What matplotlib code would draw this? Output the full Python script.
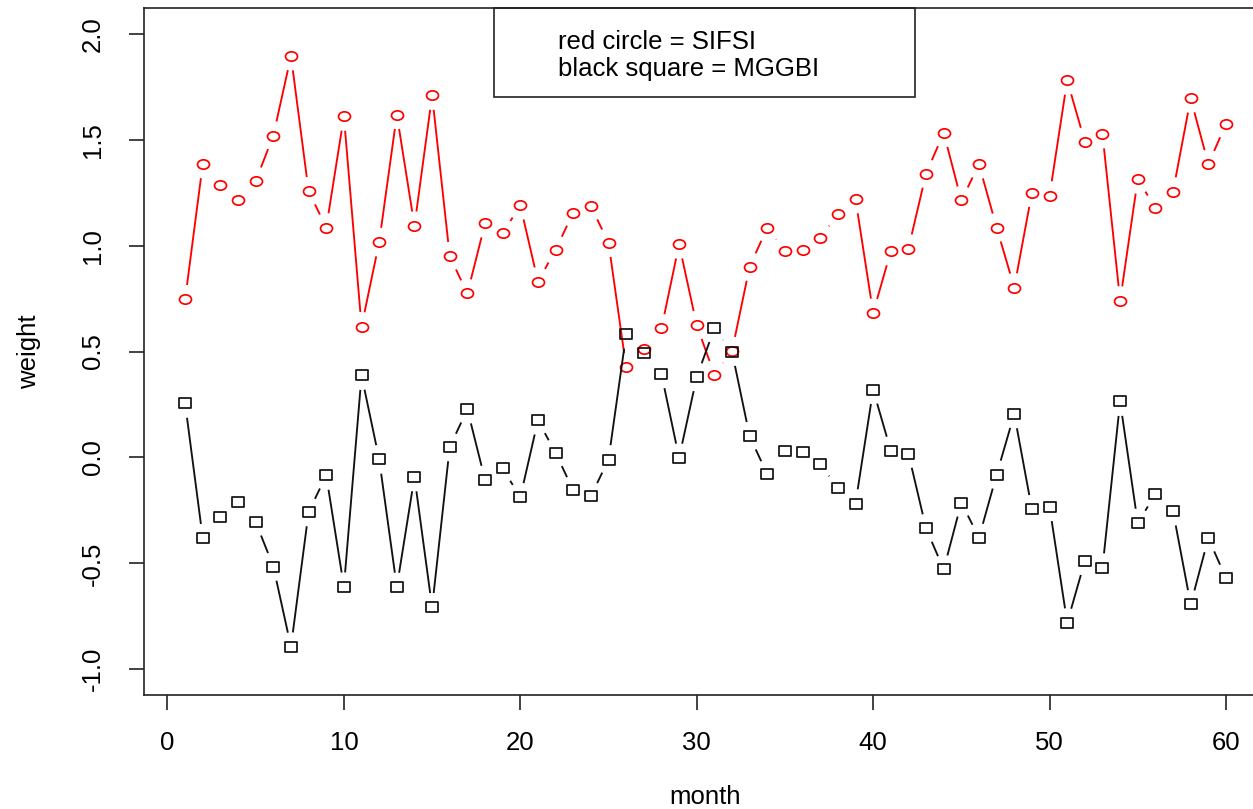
import numpy as np
import matplotlib
matplotlib.use("Agg")
import matplotlib.pyplot as plt
from matplotlib.path import Path
from matplotlib.patches import Rectangle
from matplotlib.collections import LineCollection

plt.rcParams['font.family'] = ['Liberation Sans', 'DejaVu Sans']
plt.rcParams['axes.unicode_minus'] = False

months = list(range(1, 61))
sifsi = [0.746, 1.386, 1.285, 1.213, 1.305, 1.519, 1.895, 1.256, 1.085, 1.610,
         0.618, 1.016, 1.618, 1.093, 1.709, 0.949, 0.774, 1.105, 1.058, 1.190,
         0.830, 0.980, 1.156, 1.185, 1.014, 0.425, 0.512, 0.609, 1.006, 0.624,
         0.391, 0.502, 0.901, 1.085, 0.974, 0.980, 1.036, 1.149, 1.220, 0.682,
         0.973, 0.986, 1.340, 1.532, 1.213, 1.383, 1.085, 0.802, 1.250, 1.236,
         1.780, 1.490, 1.527, 0.740, 1.313, 1.178, 1.255, 1.695, 1.384, 1.574]
mggbi = [0.255, -0.382, -0.280, -0.209, -0.305, -0.515, -0.894, -0.257, -0.085, -0.611,
         0.387, -0.009, -0.612, -0.092, -0.708, 0.050, 0.227, -0.106, -0.052, -0.188,
         0.175, 0.021, -0.155, -0.183, -0.010, 0.581, 0.491, 0.394, -0.002, 0.380,
         0.609, 0.499, 0.100, -0.080, 0.028, 0.026, -0.031, -0.144, -0.218, 0.320,
         0.032, 0.018, -0.335, -0.529, -0.213, -0.379, -0.081, 0.205, -0.245, -0.233,
         -0.780, -0.489, -0.521, 0.264, -0.310, -0.173, -0.254, -0.694, -0.381, -0.569]
x_ticks = [0, 10, 20, 30, 40, 50, 60]
y_ticks = [-1.0, -0.5, 0.0, 0.5, 1.0, 1.5, 2.0]
legend_lines = ["red circle = SIFSI", "black square = MGGBI"]

W, H = 1253, 809
fig = plt.figure(figsize=(W / 100, H / 100), dpi=100)
left, right, bottom, top = 143.5, 1267.6, 694.7, 8.3
ax = fig.add_axes([left / W, (H - bottom) / H, (right - left) / W, (bottom - top) / H])
ax.set_xlim(-1.36, 62.36)
ax.set_ylim(-1.12, 2.12)
for s in ['left', 'bottom', 'top', 'right']:
    ax.spines[s].set_linewidth(1.2)
    ax.spines[s].set_color('#222222')

FS = 18.5
ax.set_xticks(x_ticks)
ax.set_yticks(y_ticks)
ax.set_yticklabels(["%.1f" % v for v in y_ticks])
ax.tick_params(axis='both', length=11, width=1.2, color='#222222', labelsize=FS)
ax.tick_params(axis='x', pad=15)
ax.tick_params(axis='y', pad=17, labelrotation=90)
for lab in ax.get_yticklabels():
    lab.set_va('center')
    lab.set_ha('right')

ax.set_xlabel('month', fontsize=FS, va='center')
ax.xaxis.set_label_coords(0.5, (bottom - 797) / (bottom - top))
ax.set_ylabel('weight', fontsize=FS, va='center', ha='center')
ax.yaxis.set_label_coords((29 - left) / (right - left), 0.5)

# markers (slightly wide, as in the reference)
circ = Path.unit_circle()
ell = Path(circ.vertices * np.array([1.0, 0.78]), circ.codes)
sq = Path([(-1, -0.87), (1, -0.87), (1, 0.87), (-1, 0.87), (-1, -0.87)],
          [Path.MOVETO, Path.LINETO, Path.LINETO, Path.LINETO, Path.CLOSEPOLY])

GAP = 14.5  # pixels


def gapped_segments(xs, ys):
    pts = ax.transData.transform(np.column_stack([xs, ys]))
    inv = ax.transData.inverted()
    segs = []
    for p0, p1 in zip(pts[:-1], pts[1:]):
        d = p1 - p0
        L = np.hypot(*d)
        if L <= 2 * GAP:
            continue
        u = d / L
        a = p0 + u * GAP
        b = p1 - u * GAP
        segs.append(inv.transform(np.vstack([a, b])))
    return segs


for ys, col, mk, ms in [(sifsi, '#FF0000', ell, 8.6), (mggbi, '#111111', sq, 8.3)]:
    lc = LineCollection(gapped_segments(months, ys), colors=col, linewidths=1.35)
    ax.add_collection(lc)
    ax.plot(months, ys, linestyle='none', marker=mk, markersize=ms,
            markerfacecolor='none', markeredgecolor=col, markeredgewidth=1.25)

# legend box (text only)
bx0, bx1, by1 = 494, 915, 96.7
ax.add_patch(Rectangle(((bx0 - left) / (right - left), (bottom - by1) / (bottom - top)),
                       (bx1 - bx0) / (right - left), (by1 - top) / (bottom - top),
                       transform=ax.transAxes, fill=False, edgecolor='#222222',
                       linewidth=1.2, clip_on=False))
for txt, yb in zip(legend_lines, [49, 76]):
    ax.text((558 - left) / (right - left), (bottom - yb) / (bottom - top), txt,
            transform=ax.transAxes, fontsize=FS, va='baseline', ha='left')

fig.savefig('out.png', dpi=100)
